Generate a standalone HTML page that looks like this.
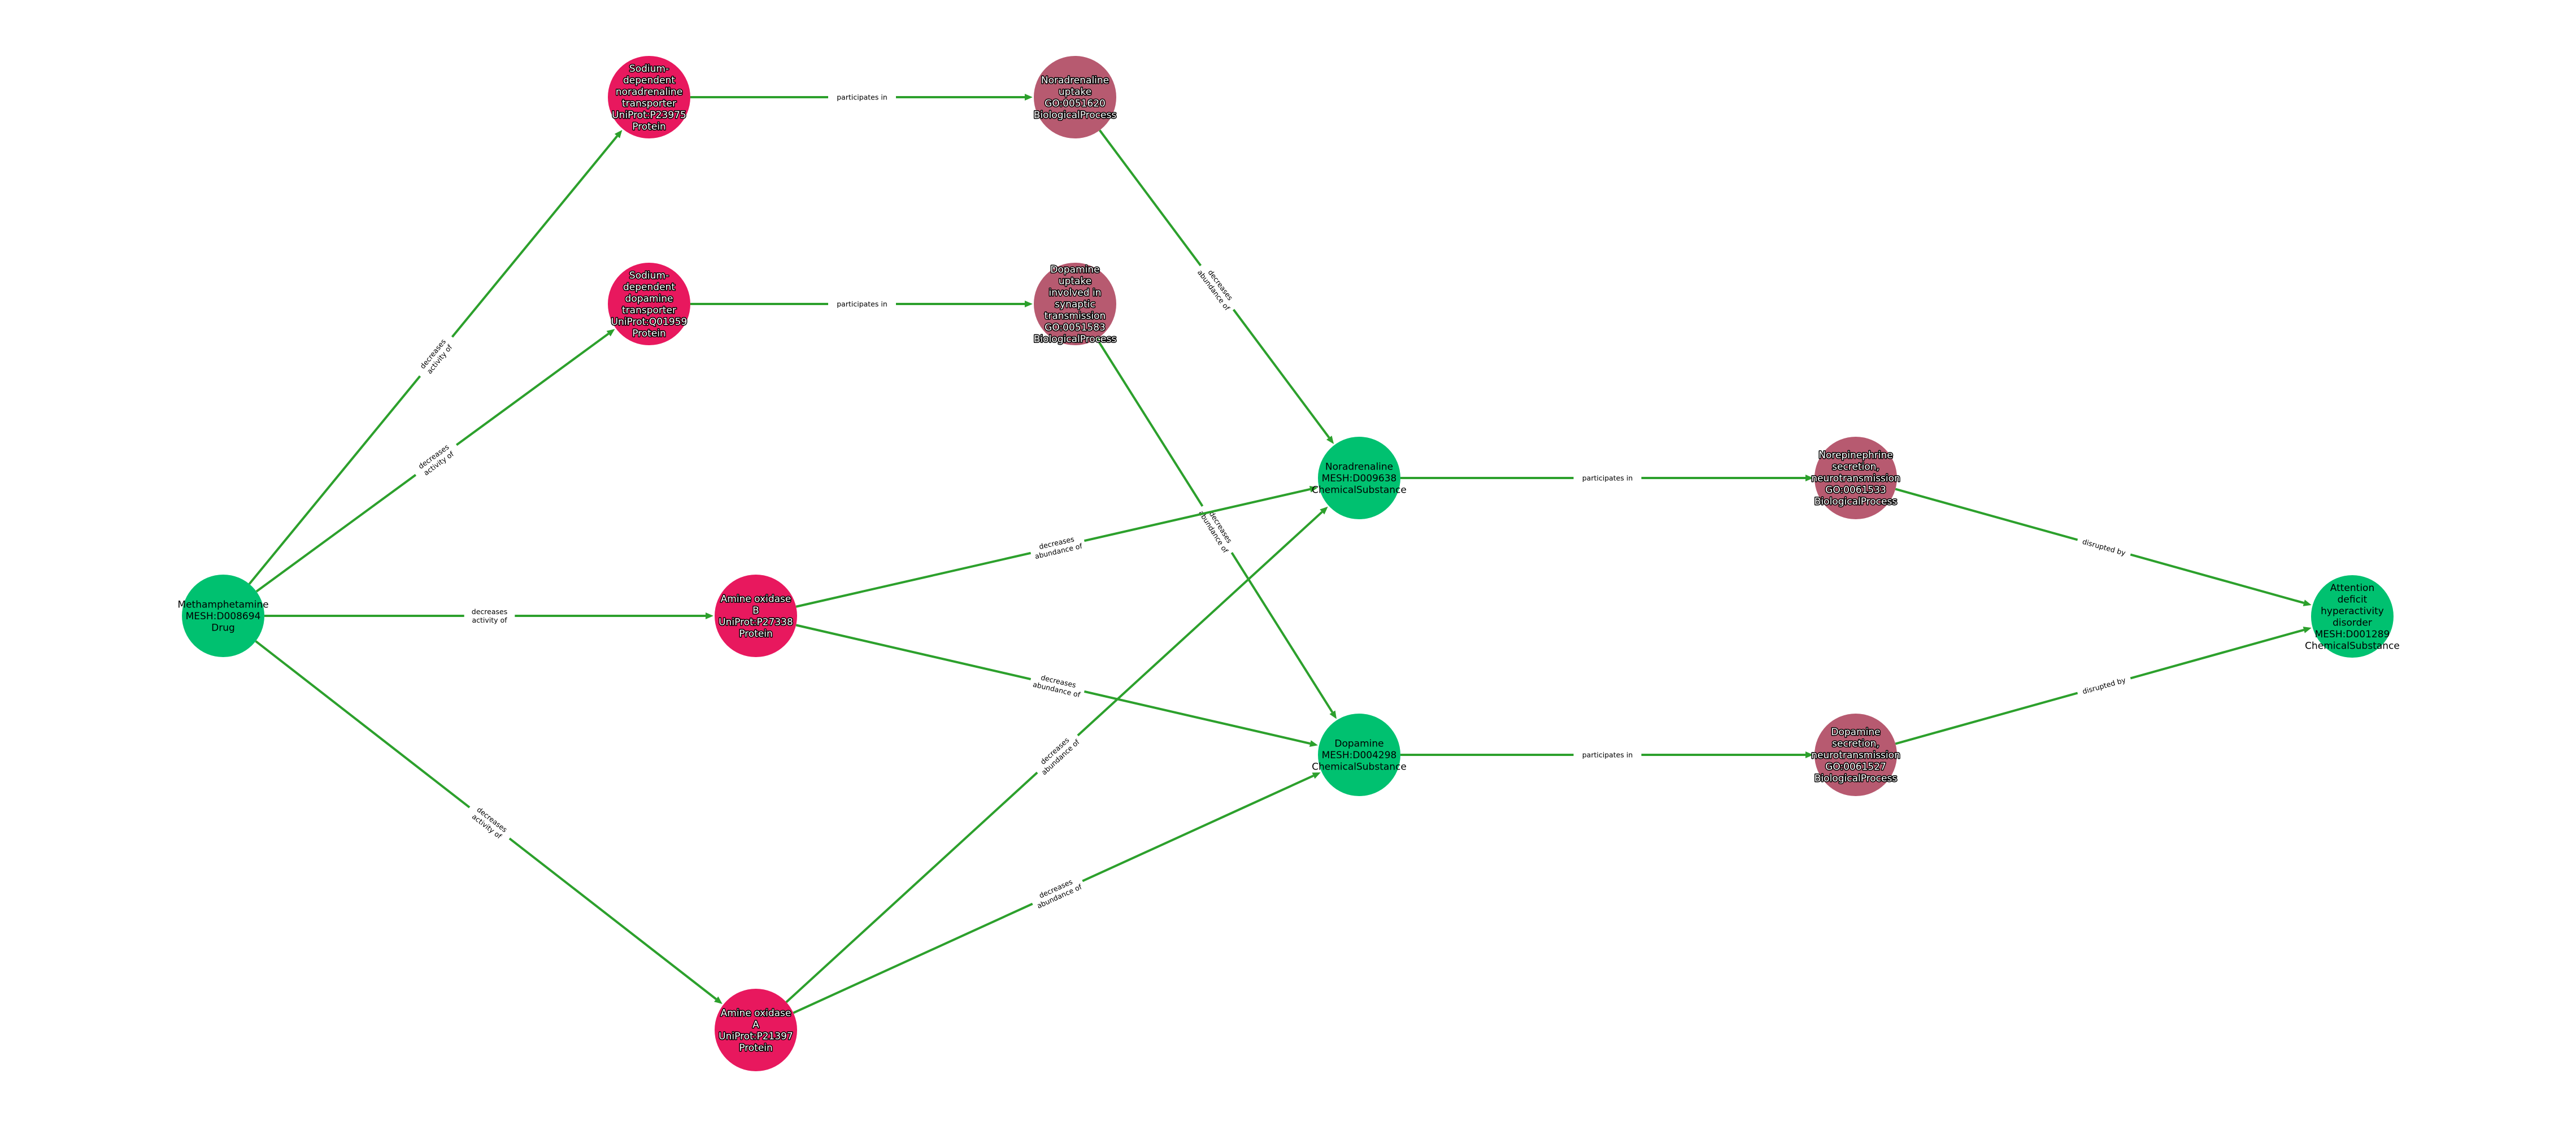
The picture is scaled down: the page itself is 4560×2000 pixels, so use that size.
<!DOCTYPE html>
<html><head><meta charset="utf-8"><style>
html,body{margin:0;padding:0;background:#fff;width:4560px;height:2000px;overflow:hidden}
svg{display:block}
.nl{font-family:"DejaVu Sans","Liberation Sans",sans-serif;font-size:17px;text-anchor:middle}
.w{fill:#fff;stroke:#000;stroke-width:3px;paint-order:stroke;stroke-linejoin:round}
.b{fill:#000}
.el{font-family:"DejaVu Sans","Liberation Sans",sans-serif;font-size:12.5px;text-anchor:middle;fill:#000}
</style></head><body>
<svg id="s" width="4560" height="2000" xmlns="http://www.w3.org/2000/svg"></svg>
<script>
var N={
meth:[395,1090,'g',['Methamphetamine','MESH:D008694','Drug']],
snt:[1149,172,'r',['Sodium-','dependent','noradrenaline','transporter','UniProt:P23975','Protein']],
sdt:[1149,538,'r',['Sodium-','dependent','dopamine','transporter','UniProt:Q01959','Protein']],
aob:[1338,1090,'r',['Amine oxidase','B','UniProt:P27338','Protein']],
aoa:[1338,1823,'r',['Amine oxidase','A','UniProt:P21397','Protein']],
nu:[1903,172,'m',['Noradrenaline','uptake','GO:0051620','BiologicalProcess']],
du:[1903,538,'m',['Dopamine','uptake','involved in','synaptic','transmission','GO:0051583','BiologicalProcess']],
nor:[2406,846,'g',['Noradrenaline','MESH:D009638','ChemicalSubstance']],
dop:[2406,1336,'g',['Dopamine','MESH:D004298','ChemicalSubstance']],
ns:[3285,846,'m',['Norepinephrine','secretion,','neurotransmission','GO:0061533','BiologicalProcess']],
ds:[3285,1336,'m',['Dopamine','secretion,','neurotransmission','GO:0061527','BiologicalProcess']],
adhd:[4164,1091,'g',['Attention','deficit','hyperactivity','disorder','MESH:D001289','ChemicalSubstance']]
};
var DA=['decreases','activity of'],DB=['decreases','abundance of'];
var E=[['meth','snt',DA],['meth','sdt',DA],['meth','aob',DA],['meth','aoa',DA],
['snt','nu',['participates in']],['sdt','du',['participates in']],
['nu','nor',DB],['du','dop',DB],['aob','nor',DB],['aob','dop',DB],['aoa','nor',DB],['aoa','dop',DB],
['nor','ns',['participates in']],['dop','ds',['participates in']],
['ns','adhd',['disrupted by']],['ds','adhd',['disrupted by']]];
var R=73,C={g:'#00c170',r:'#e8185e',m:'#b75a70'},LC='#2ca02c';
var h='';
E.forEach(function(e){
 var a=N[e[0]],b=N[e[1]];
 var dx=b[0]-a[0],dy=b[1]-a[1],L=Math.hypot(dx,dy),ux=dx/L,uy=dy/L;
 var x1=a[0]+ux*R,y1=a[1]+uy*R,x2=b[0]-ux*(R+2),y2=b[1]-uy*(R+2);
 var bx=x2-ux*14,by=y2-uy*14;
 h+='<line x1="'+x1+'" y1="'+y1+'" x2="'+bx+'" y2="'+by+'" stroke="'+LC+'" stroke-width="4"/>';
 h+='<polygon points="'+x2+','+y2+' '+(bx-uy*6)+','+(by+ux*6)+' '+(bx+uy*6)+','+(by-ux*6)+'" fill="'+LC+'"/>';
 var mx=(a[0]+b[0])/2,my=(a[1]+b[1])/2,ang=Math.atan2(dy,dx)*180/Math.PI;
 if(ang>90)ang-=180; if(ang<-90)ang+=180;
 var ls=e[2],n=ls.length,lh=15,w=0;
 ls.forEach(function(t){w=Math.max(w,t.length*7.6)});
 h+='<g transform="translate('+mx+','+my+') rotate('+ang+')">';
 h+='<rect x="'+(-w/2-3)+'" y="'+(-n*lh/2-2)+'" width="'+(w+6)+'" height="'+(n*lh+4)+'" fill="#fff"/>';
 ls.forEach(function(t,i){h+='<text class="el" x="0" y="'+((i-(n-1)/2)*lh+4.5)+'">'+t+'</text>'});
 h+='</g>';
});
for(var k in N){var n=N[k];
 h+='<circle cx="'+n[0]+'" cy="'+n[1]+'" r="'+R+'" fill="'+C[n[2]]+'"/>';
 var ls=n[3],c=ls.length,lh=20.5;
 ls.forEach(function(t,i){h+='<text class="nl '+(n[2]=='g'?'b':'w')+'" x="'+n[0]+'" y="'+(n[1]+(i-(c-1)/2)*lh+6)+'">'+t+'</text>'});
}
document.getElementById('s').innerHTML=h;
</script>
</body></html>
